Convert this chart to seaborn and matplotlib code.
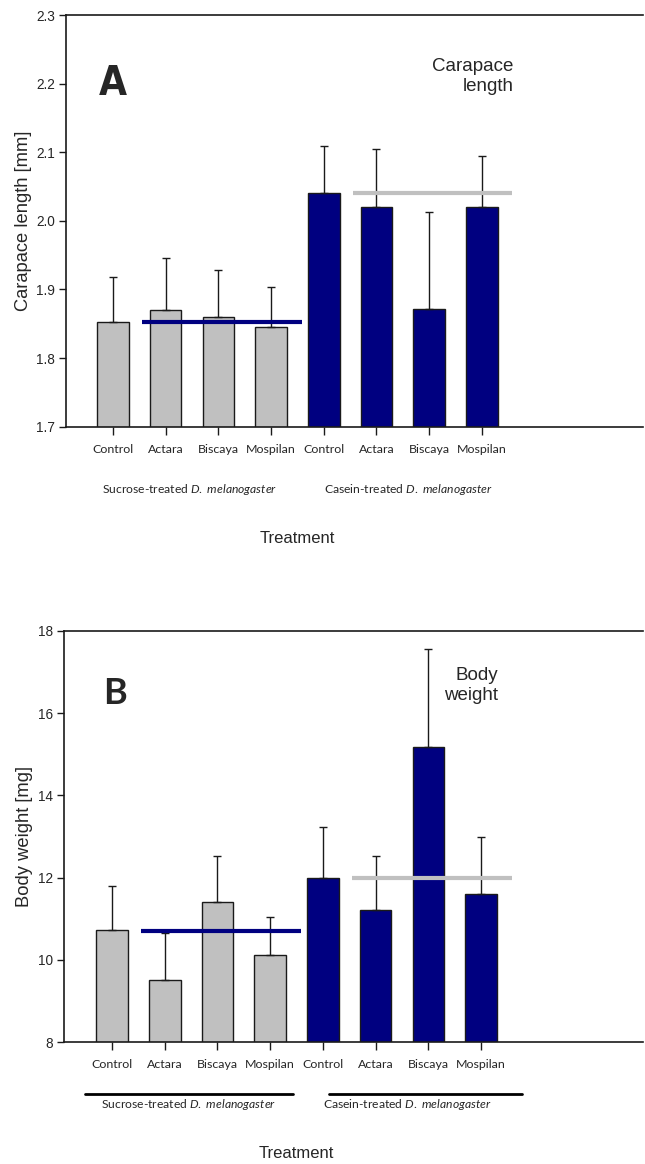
import matplotlib
matplotlib.use("Agg")
import matplotlib.pyplot as plt
import matplotlib.transforms as mtransforms
import seaborn as sns
import pandas as pd
import numpy as np

# ---------------- data ----------------
treatments = ["Control", "Actara", "Biscaya", "Mospilan"]
groups = ["Sucrose", "Casein"]
group_labels = ["Sucrose-treated $\\it{D.\\ melanogaster}$",
                "Casein-treated $\\it{D.\\ melanogaster}$"]

carapace_sucrose = [1.852, 1.870, 1.860, 1.846]
carapace_casein = [2.041, 2.020, 1.872, 2.020]
carapace_sucrose_err = [0.066, 0.076, 0.069, 0.058]
carapace_casein_err = [0.068, 0.084, 0.141, 0.075]
carapace_ref = [1.852, 2.040]

weight_sucrose = [10.72, 9.51, 11.40, 10.11]
weight_casein = [11.99, 11.20, 15.18, 11.60]
weight_sucrose_err = [1.08, 1.13, 1.12, 0.92]
weight_casein_err = [1.24, 1.32, 2.39, 1.40]
weight_ref = [10.71, 12.00]

carapace_ticks = [1.7, 1.8, 1.9, 2.0, 2.1, 2.2, 2.3]
weight_ticks = [8, 10, 12, 14, 16, 18]

colors = {"Sucrose": "#C0C0C0", "Casein": "#000080"}
ref_colors = ["#000080", "#C0C0C0"]

# ---------------- fonts ----------------
sns.set_style("white")
plt.rcParams["font.family"] = ["Liberation Sans", "DejaVu Sans"]
plt.rcParams["mathtext.fontset"] = "custom"
plt.rcParams["mathtext.rm"] = "Lato"
plt.rcParams["mathtext.it"] = "Lato:italic"
CAL = ["Lato", "DejaVu Sans"]
ARIAL = ["Liberation Sans", "DejaVu Sans"]


def make_df(suc, cas, suc_e, cas_e):
    keys = [f"{g}_{t}" for g in groups for t in treatments]
    return pd.DataFrame({
        "key": keys,
        "group": [g for g in groups for _ in treatments],
        "value": list(suc) + list(cas),
        "err": list(suc_e) + list(cas_e),
    })


fig = plt.figure(figsize=(6.45, 11.64), dpi=100)
W, H = 645.0, 1164.0
ax1 = fig.add_axes([66 / W, 1 - 426.7 / H, (643 - 66) / W, (426.7 - 15) / H])
ax2 = fig.add_axes([64.3 / W, 1 - 1042 / H, (643 - 64.3) / W, (1042 - 631) / H])


def draw(ax, df, ref, ylim, yticks, ylabel, letter, letter_pos, letter_kw,
         title, title_pos, xlim, group_lines, ylabel_x):
    sns.barplot(data=df, x="key", y="value", hue="group", palette=colors,
                dodge=False, width=0.6, edgecolor="#1a1a1a", linewidth=1.0,
                saturation=1, legend=False, ax=ax, zorder=2)
    pos = np.arange(len(df))
    ax.errorbar(pos, df["value"], yerr=[np.zeros(len(df)), df["err"]],
                fmt="none", ecolor="#1a1a1a", elinewidth=1.0, capsize=3,
                capthick=1.0, zorder=3)
    # group reference lines (control level of each diet)
    n = len(treatments)
    for gi, (r, c) in enumerate(zip(ref, ref_colors)):
        ax.hlines(r, gi * n + 0.55, gi * n + 3.58, color=c, lw=3.0, zorder=4)
    ax.set_ylim(*ylim)
    ax.set_xlim(*xlim)
    ax.set_yticks(yticks)
    ax.set_yticklabels([f"{t:g}" if isinstance(t, int) else f"{t:.1f}" for t in yticks],
                       fontsize=9.8)
    ax.set_xticks(pos)
    ax.set_xticklabels(treatments * 2, fontsize=8.9, family=CAL)
    ax.tick_params(axis="x", direction="out", length=6, width=1, pad=6.5,
                   bottom=True, color="#1a1a1a")
    ax.tick_params(axis="y", direction="out", length=5, width=1, pad=3,
                   left=True, color="#1a1a1a")
    for s in ["left", "bottom", "top"]:
        ax.spines[s].set_visible(True)
        ax.spines[s].set_linewidth(1.2)
        ax.spines[s].set_color("#1a1a1a")
    ax.spines["right"].set_visible(False)
    ax.set_ylabel(ylabel, fontsize=13.2)
    ax.yaxis.set_label_coords(ylabel_x, 0.5)
    ax.set_xlabel("Treatment", fontsize=12, family=ARIAL)
    ax.xaxis.set_label_coords((3.5 - xlim[0]) / (xlim[1] - xlim[0]), -0.254)
    ax.text(letter_pos[0], letter_pos[1], letter, ha="center", va="center",
            fontweight="bold", **letter_kw)
    ax.text(title_pos[0], title_pos[1], title, ha="right", va="top", ma="right",
            fontsize=13.5, family=ARIAL, linespacing=1.25)
    trans = mtransforms.blended_transform_factory(ax.transData, ax.transAxes)
    centers = [1.45, 5.6]
    for gi, lab in enumerate(group_labels):
        ax.text(centers[gi], -0.152, lab, transform=trans, ha="center",
                va="center", fontsize=8.7, family=CAL)
    if group_lines:
        spans = [(-0.51, 3.44), (4.11, 7.77)]
        for a, b in spans:
            ax.plot([a, b], [-0.126, -0.126], transform=trans, color="black",
                    lw=2.0, clip_on=False)


df1 = make_df(carapace_sucrose, carapace_casein, carapace_sucrose_err, carapace_casein_err)
draw(ax1, df1, carapace_ref, (1.7, 2.3), carapace_ticks, "Carapace length [mm]",
     "A", (0.0, 2.2),
     dict(fontsize=29, family=["DejaVu Sans"], fontstretch="condensed"),
     "Carapace\nlength", (7.6, 2.238),
     (-0.892, 10.06), False, -0.059)

df2 = make_df(weight_sucrose, weight_casein, weight_sucrose_err, weight_casein_err)
draw(ax2, df2, weight_ref, (8, 18), weight_ticks, "Body weight [mg]",
     "B", (0.06, 16.48), dict(fontsize=26, family=CAL),
     "Body\nweight", (7.32, 17.12),
     (-0.904, 10.07), True, -0.054)

fig.savefig("out.png", dpi=100)
